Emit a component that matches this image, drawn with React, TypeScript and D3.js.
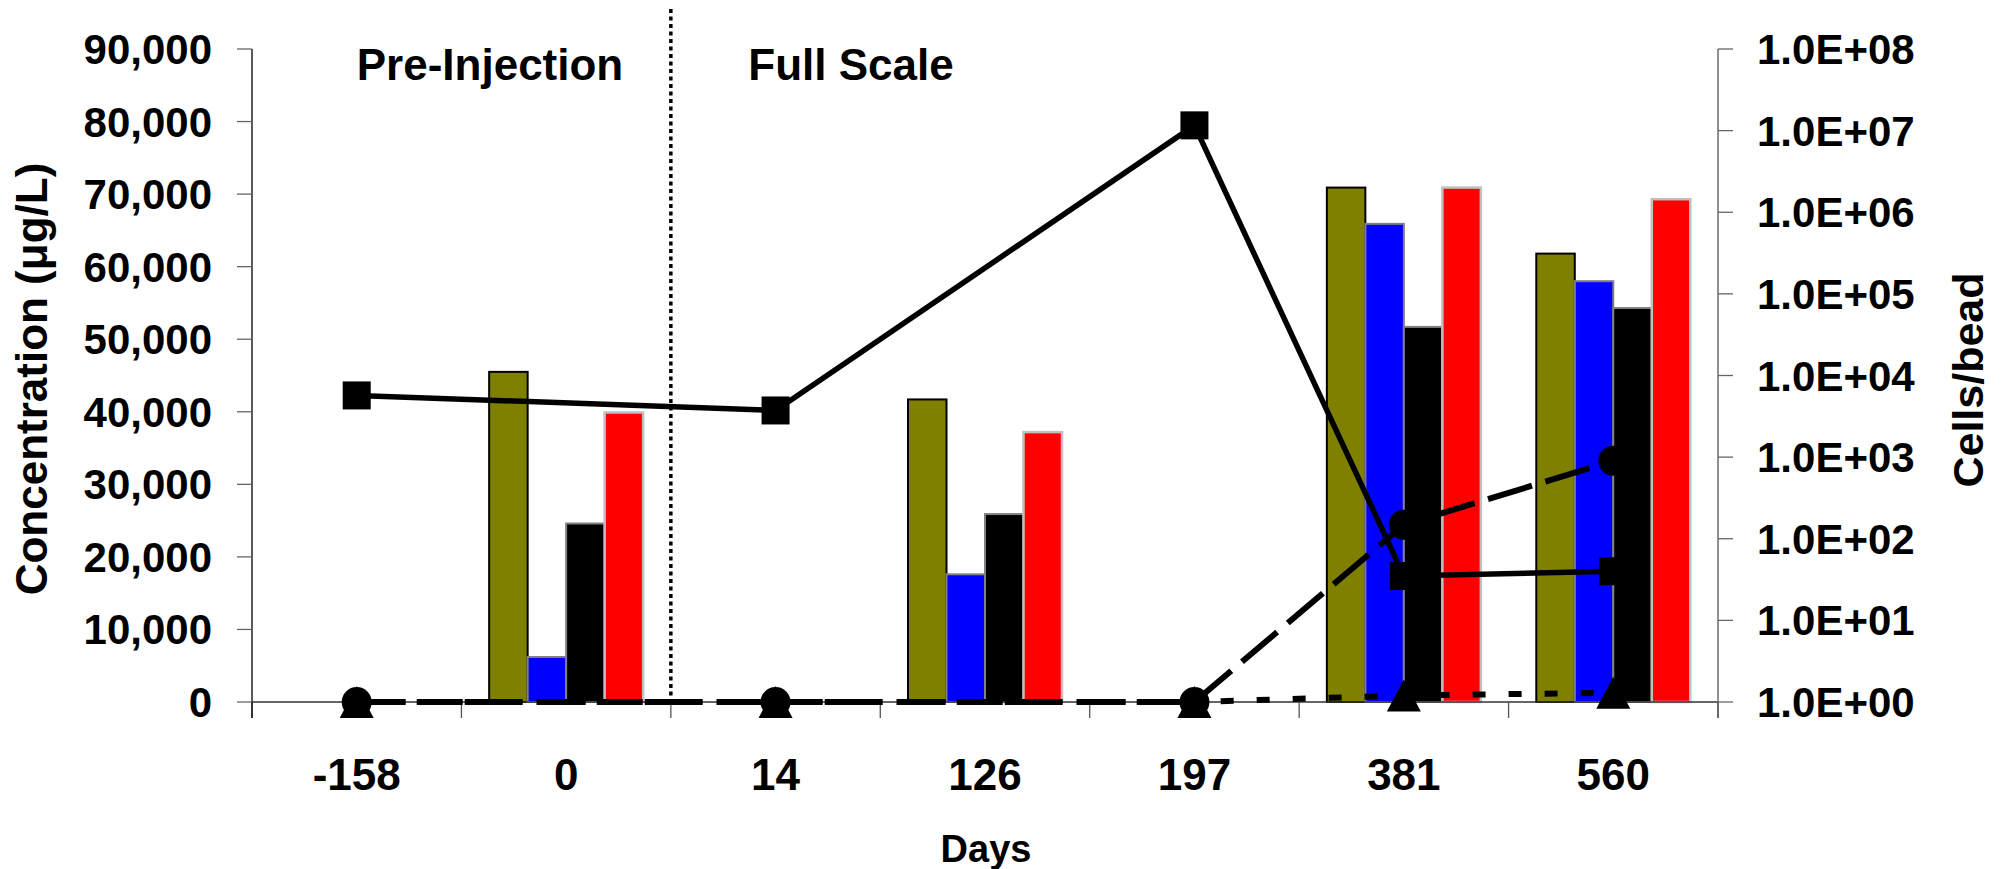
import React, { useEffect } from "react";
import * as d3 from "d3";

const days = ["-158", "0", "14", "126", "197", "381", "560"];
const olive = [null, 45500, null, 41700, null, 70900, 61800];
const blue = [null, 6200, null, 17600, null, 65900, 58000];
const black = [null, 24600, null, 25900, null, 51700, 54300];
const red = [null, 39900, null, 37200, null, 70900, 69300];
const squares = [5700, null, 3730, null, 1.16e7, 35, 40];
const circles = [1, null, 1, null, 1, 148, 900];
const triangles = [1, null, 1, null, 1, 1.2, 1.3];
const leftTicks = [0, 10000, 20000, 30000, 40000, 50000, 60000, 70000, 80000, 90000];
const rightTicks = [1, 10, 100, 1e3, 1e4, 1e5, 1e6, 1e7, 1e8];

const barSeries = [
  { name: "olive", values: olive, fill: "#808000", stroke: "#000000", sw: 2 },
  { name: "blue", values: blue, fill: "#0000FF", stroke: "#808080", sw: 2 },
  { name: "black", values: black, fill: "#000000", stroke: "#808080", sw: 2 },
  { name: "red", values: red, fill: "#FF0000", stroke: "#C0C0C0", sw: 2.5 },
];

const FONT = "'Liberation Sans', Arial, Helvetica, sans-serif";

export default function App() {
  useEffect(() => {
    document.body.style.margin = "0";
  }, []);
  const W = 2001, H = 869;
  const left = 252, right = 1718, top = 49, bottom = 702;
  const x = d3.scaleBand<string>().domain(days).range([left, right]).paddingInner(0).paddingOuter(0);
  const y = d3.scaleLinear().domain([0, 90000]).range([bottom, top]);
  const yr = d3.scaleLog().domain([1, 1e8]).range([bottom, top]);
  const groupW = 154;
  const xs = d3.scaleBand<string>().domain(barSeries.map((s) => s.name)).range([-groupW / 2, groupW / 2]);
  const cx = (d: string) => (x(d) as number) + x.bandwidth() / 2;
  const fmtLeft = d3.format(",");
  const fmtRight = (v: number) => {
    const e = Math.round(Math.log10(v));
    return "1.0E+" + (e < 10 ? "0" + e : "" + e);
  };

  const linePts = (vals: (number | null)[]) =>
    days.map((d, i) => ({ d, v: vals[i] })).filter((p) => p.v != null) as { d: string; v: number }[];
  const lineGen = d3.line<{ d: string; v: number }>().x((p) => cx(p.d)).y((p) => yr(p.v));

  const sq = linePts(squares);
  const ci = linePts(circles);
  const tr = linePts(triangles);
  const boundaries = d3.range(days.length + 1).map((i) => left + i * x.step());
  const triPath = (px: number, py: number) => {
    const w = 34, h = 32;
    return `M${px},${py - h / 2}L${px + w / 2},${py + h / 2}L${px - w / 2},${py + h / 2}Z`;
  };

  return (
    <svg width={W} height={H} style={{ position: "absolute", left: 0, top: 0, background: "#fff" }} fontFamily={FONT}>
      <rect x={0} y={0} width={W} height={H} fill="#fff" />
      {/* bars */}
      {barSeries.map((s) =>
        days.map((d, i) => {
          const v = s.values[i];
          if (v == null) return null;
          const bx = cx(d) + (xs(s.name) as number);
          return (
            <rect key={s.name + d} x={bx} y={y(v)} width={xs.bandwidth()} height={bottom - y(v)}
              fill={s.fill} stroke={s.stroke} strokeWidth={s.sw} />
          );
        })
      )}
      {/* x axis line */}
      <line x1={left} x2={right} y1={bottom} y2={bottom} stroke="#333" strokeWidth={1.3} />
      {boundaries.map((bx, i) => (
        <line key={"xt" + i} x1={bx} x2={bx} y1={bottom} y2={bottom + 16} stroke="#555" strokeWidth={1.3} />
      ))}
      {/* left axis */}
      <line x1={left} x2={left} y1={top} y2={bottom + 16} stroke="#000" strokeWidth={1.3} />
      {leftTicks.map((t) => (
        <g key={"lt" + t}>
          <line x1={left - 15} x2={left} y1={y(t)} y2={y(t)} stroke="#666" strokeWidth={1.3} />
          <text x={212} y={y(t) + 15} textAnchor="end" fontSize={42} fontWeight="bold">{fmtLeft(t)}</text>
        </g>
      ))}
      {/* right axis */}
      <line x1={right} x2={right} y1={top} y2={bottom + 16} stroke="#555" strokeWidth={1.3} />
      {rightTicks.map((t) => (
        <g key={"rt" + t}>
          <line x1={right} x2={right + 15} y1={yr(t)} y2={yr(t)} stroke="#666" strokeWidth={1.3} />
          <text x={1757} y={yr(t) + 15} textAnchor="start" fontSize={42} fontWeight="bold">{fmtRight(t)}</text>
        </g>
      ))}
      {/* vertical dotted separator */}
      <line x1={boundaries[2]} x2={boundaries[2]} y1={9} y2={bottom} stroke="#000" strokeWidth={3.5} strokeDasharray="4 3.5" />
      {/* lines */}
      <path d={lineGen(tr) || ""} fill="none" stroke="#000" strokeWidth={6} strokeDasharray="13 23" />
      <path d={lineGen(ci) || ""} fill="none" stroke="#000" strokeWidth={6} strokeDasharray="46 14" />
      <path d={lineGen(sq) || ""} fill="none" stroke="#000" strokeWidth={5.5} />
      {tr.map((p) => (
        <path key={"tr" + p.d} d={triPath(cx(p.d), yr(p.v))} fill="#000" />
      ))}
      {ci.map((p) => (
        <circle key={"ci" + p.d} cx={cx(p.d)} cy={yr(p.v)} r={15} fill="#000" />
      ))}
      {sq.map((p) => (
        <rect key={"sq" + p.d} x={cx(p.d) - 14} y={yr(p.v) - 14} width={28} height={28} fill="#000" />
      ))}
      {/* category labels */}
      {days.map((d) => (
        <text key={"xl" + d} x={cx(d)} y={790} textAnchor="middle" fontSize={44} fontWeight="bold">{d}</text>
      ))}
      <text x={986} y={862} textAnchor="middle" fontSize={38} fontWeight="bold">Days</text>
      <text transform="translate(47,379) rotate(-90)" textAnchor="middle" fontSize={44} fontWeight="bold">Concentration (μg/L)</text>
      <text transform="translate(1983,380) rotate(-90)" textAnchor="middle" fontSize={43} fontWeight="bold">Cells/bead</text>
      <text x={490} y={80} textAnchor="middle" fontSize={44} fontWeight="bold">Pre-Injection</text>
      <text x={851} y={80} textAnchor="middle" fontSize={44} fontWeight="bold">Full Scale</text>
    </svg>
  );
}
